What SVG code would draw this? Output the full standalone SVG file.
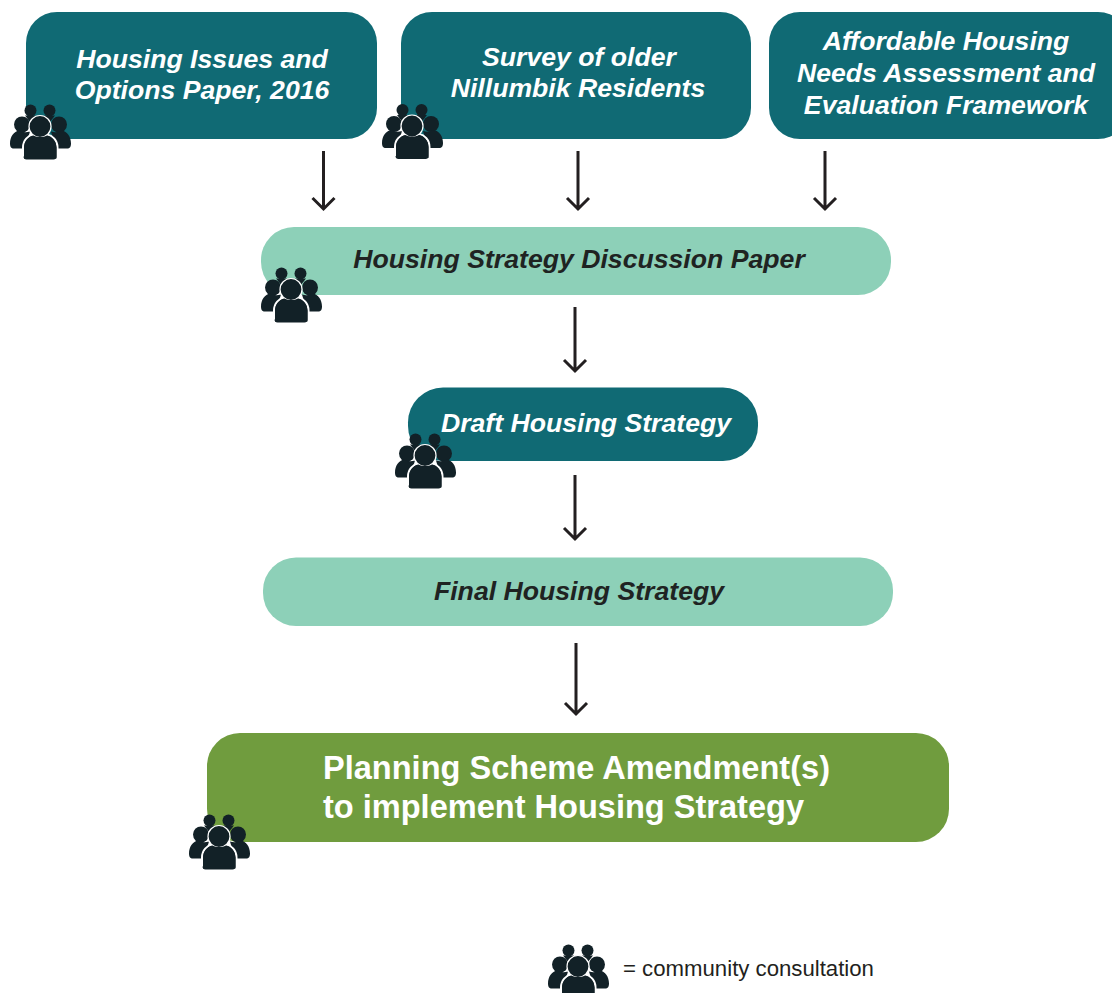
<svg xmlns="http://www.w3.org/2000/svg" width="1112" height="993" viewBox="0 0 1112 993">
<style>
.n{font-family:"Liberation Sans",Arial,sans-serif;font-weight:700;font-style:italic;font-size:26.65px;text-anchor:middle}
.w{fill:#fff}.d{fill:#1f2322}
.teal{fill:#106a74}.mint{fill:#8dd0b8}
.a{fill:none;stroke:#231f20;stroke-width:3}
</style>
<defs>
<g id="people">
<g fill="#122127">
<circle cx="30.500" cy="111" r="6"/><circle cx="49.500" cy="111" r="6"/>
<path d="M25 116h11l-5.500 7zM44 116h11l-5.500 7z"/>
<circle cx="22" cy="125" r="8"/><circle cx="59" cy="125" r="8"/>
<path d="M10 144c0-7 4-12 9-13 4 2 7 2 11 1l-5 17h-11c-3 0-4-2-4-5zM71 144c0-7-4-12-9-13-4 2-7 2-11 1l5 17h11c3 0 4-2 4-5z"/>
</g>
<path d="M23 160v-12c0-7 5-12 10.500-13 4 2 9.500 2 13.500 0 5.500 1 10.500 6 10.500 13v12z" fill="#122127" stroke="#fff" stroke-width="2" stroke-linejoin="round"/>
<circle cx="40" cy="127" r="11" fill="#122127" stroke="#fff" stroke-width="1.200"/>
<path d="M24 157v-9c0-6 4-11 9.500-12 4 2 9.500 2 13.500 0 5.500 1 9.500 6 9.500 12v9c0 2-1 3-3 3h-27c-2 0-3-1-3-3z" fill="#122127"/>
</g>
</defs>
<g id="connectors" class="a">
<path d="M323.500 151v58M312.500 198l11 11 11-11"/>
<path d="M578 151v58M567 198l11 11 11-11"/>
<path d="M825 151v58M814 198l11 11 11-11"/>
<path d="M575 307v64M564 360l11 11 11-11"/>
<path d="M575 475v64M564 528l11 11 11-11"/>
<path d="M576 643v71M565 703l11 11 11-11"/>
</g>
<g id="node-issues">
<rect class="teal" x="26" y="12" width="351" height="127" rx="31"/>
<text class="n w" x="202" y="68">Housing Issues and</text>
<text class="n w" x="202" y="99">Options Paper, 2016</text>
<use href="#people" y="-0.500"/>
</g>
<g id="node-survey">
<rect class="teal" x="401" y="12" width="350" height="127" rx="31"/>
<text class="n w" x="579" y="66">Survey of older</text>
<text class="n w" x="578" y="97">Nillumbik Residents</text>
<use href="#people" x="372" y="-1"/>
</g>
<g id="node-affordable">
<rect class="teal" x="769" y="12" width="360" height="127" rx="31"/>
<text class="n w" x="946" y="50">Affordable Housing</text>
<text class="n w" x="946" y="82">Needs Assessment and</text>
<text class="n w" x="946" y="114">Evaluation Framework</text>
</g>
<g id="node-discussion">
<rect class="mint" x="261" y="227" width="630" height="68" rx="33"/>
<text class="n d" x="579" y="268">Housing Strategy Discussion Paper</text>
<use href="#people" x="251" y="162.500"/>
</g>
<g id="node-draft">
<rect class="teal" x="408" y="387.500" width="350" height="73.500" rx="35"/>
<text class="n w" x="586" y="432">Draft Housing Strategy</text>
<use href="#people" x="385" y="328.500"/>
</g>
<g id="node-final">
<rect class="mint" x="263" y="557.500" width="630" height="68.500" rx="33"/>
<text class="n d" x="579" y="600">Final Housing Strategy</text>
</g>
<g id="node-amendment">
<rect x="207" y="733" width="742" height="109" rx="33" fill="#709c3e"/>
<text x="323" y="778.500" font-family="'Liberation Sans',Arial,sans-serif" font-weight="700" font-size="32.550" fill="#fff">Planning Scheme Amendment(s)</text>
<text x="323" y="817.500" font-family="'Liberation Sans',Arial,sans-serif" font-weight="700" font-size="32.550" fill="#fff">to implement Housing Strategy</text>
<use href="#people" x="179" y="709.500"/>
</g>
<g id="legend">
<use href="#people" x="538" y="839.500"/>
<text x="623" y="976" font-family="'Liberation Sans',Arial,sans-serif" font-size="22.200" fill="#231f20">= community consultation</text>
</g>
</svg>
